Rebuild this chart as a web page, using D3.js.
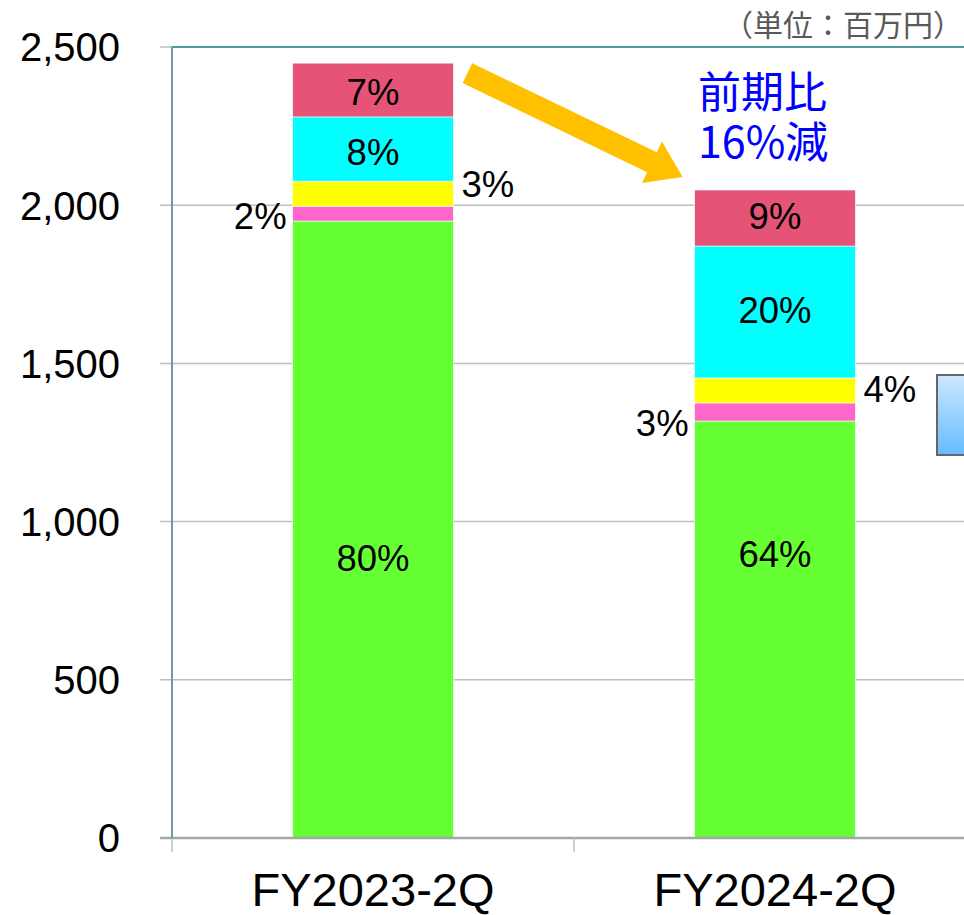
<!DOCTYPE html>
<html>
<head>
<meta charset="utf-8">
<script src="https://cdn.jsdelivr.net/npm/d3@7"></script>
<style>
  body { margin: 0; background: #fff; }
  svg { display: block; }
</style>
</head>
<body>
<div id="viz"></div>
<script>
// data
const categories = ["FY2023-2Q", "FY2024-2Q"];
const seriesKeys = ["green", "pink", "yellow", "cyan", "red"];
const seriesColors = ["#66FF33", "#FF66CC", "#FFFF00", "#00FFFF", "#E55377"];
const seriesValues = {
    green:  [1950, 1318],
    pink:   [47, 57],
    yellow: [79, 79],
    cyan:   [203, 417],
    red:    [170, 177]
};
const yTicks = [0, 500, 1000, 1500, 2000, 2500];
const unitLabel = "（単位：百万円）";
const changeNote = ["前期比", "16%減"];

// label layout: where each series' percent label sits, plus small nudges (px)
const labelPlacement = { green: "inside", pink: "left", yellow: "right", cyan: "inside", red: "inside" };
const labelNudge = {
    green: [28, -76], pink: [2, 11], yellow: [-10, -2], cyan: [3, -2], red: [2, -2]
};

const width = 964, height = 915;
const margin = { top: 47, left: 172, bottom: 77 };
const bandW = 402;

const svg = d3.select("#viz").append("svg")
    .attr("width", width)
    .attr("height", height);

const x = d3.scaleBand()
    .domain(categories)
    .range([margin.left, margin.left + bandW * categories.length]);

const y = d3.scaleLinear()
    .domain([0, 2500])
    .range([height - margin.bottom, margin.top]);

const barW = x.bandwidth() * 0.4;
const font = "'Liberation Sans', Arial, sans-serif";
const cjk = "'Noto Sans CJK JP', sans-serif";

// gridlines
svg.append("g")
    .selectAll("line")
    .data(yTicks.filter(d => d > 0 && d < 2500))
    .enter().append("line")
    .attr("x1", margin.left - 12)
    .attr("x2", width)
    .attr("y1", d => y(d))
    .attr("y2", d => y(d))
    .attr("stroke", "#bfbfbf")
    .attr("stroke-width", 1.5);

// top tick stub
svg.append("line")
    .attr("x1", margin.left - 12).attr("x2", margin.left)
    .attr("y1", y(2500)).attr("y2", y(2500))
    .attr("stroke", "#bfbfbf").attr("stroke-width", 1.5);

// y tick labels
svg.append("g")
    .selectAll("text")
    .data(yTicks)
    .enter().append("text")
    .attr("x", 120)
    .attr("y", d => y(d))
    .attr("dy", "0.36em")
    .attr("text-anchor", "end")
    .style("font-family", font)
    .style("font-size", "40px")
    .attr("fill", "#000")
    .text(d => d3.format(",")(d));

// stacked bars
const rows = categories.map((c, i) => {
    const r = { cat: c };
    seriesKeys.forEach(k => r[k] = seriesValues[k][i]);
    return r;
});
const stacked = d3.stack().keys(seriesKeys)(rows);
const totals = rows.map(r => d3.sum(seriesKeys, k => r[k]));

const layer = svg.selectAll(".layer")
    .data(stacked)
    .enter().append("g")
    .attr("class", "layer")
    .attr("fill", (d, i) => seriesColors[i]);

layer.selectAll("rect")
    .data(d => d.map(p => ({ p, cat: p.data.cat })))
    .enter().append("rect")
    .attr("x", d => x(d.cat) + (x.bandwidth() - barW) / 2)
    .attr("width", barW)
    .attr("y", d => y(d.p[1]))
    .attr("height", d => y(d.p[0]) - y(d.p[1]))
    .attr("stroke", "#ffffff")
    .attr("stroke-width", 0.6);

// percent labels
stacked.forEach(s => {
    s.forEach((p, i) => {
        const cat = categories[i];
        const pct = Math.round((p[1] - p[0]) / totals[i] * 100) + "%";
        const cy = y((p[0] + p[1]) / 2) + labelNudge[s.key][i];
        const cx = x(cat) + x.bandwidth() / 2;
        const place = labelPlacement[s.key];
        let tx = cx, anchor = "middle";
        if (place === "left") { tx = cx - barW / 2 - 6; anchor = "end"; }
        if (place === "right") { tx = cx + barW / 2 + 8; anchor = "start"; }
        svg.append("text")
            .attr("x", tx)
            .attr("y", cy)
            .attr("dy", "0.36em")
            .attr("text-anchor", anchor)
            .style("font-family", font)
            .style("font-size", "36.5px")
            .attr("fill", "#000")
            .text(pct);
    });
});

// axes frame
svg.append("line")
    .attr("x1", margin.left - 12).attr("x2", width)
    .attr("y1", y(0)).attr("y2", y(0))
    .attr("stroke", "#a6a6a6").attr("stroke-width", 2.5);
svg.append("line")
    .attr("x1", margin.left).attr("x2", width)
    .attr("y1", y(2500)).attr("y2", y(2500))
    .attr("stroke", "#4e9a9c").attr("stroke-width", 2);
svg.append("line")
    .attr("x1", margin.left).attr("x2", margin.left)
    .attr("y1", y(2500)).attr("y2", y(0))
    .attr("stroke", "#6a9ea0").attr("stroke-width", 2);

// category boundary ticks
svg.append("g")
    .selectAll("line")
    .data(categories.map(c => x(c)))
    .enter().append("line")
    .attr("x1", d => d).attr("x2", d => d)
    .attr("y1", y(0)).attr("y2", y(0) + 14)
    .attr("stroke", "#bfbfbf").attr("stroke-width", 1.5);

// x labels
svg.append("g")
    .selectAll("text")
    .data(categories)
    .enter().append("text")
    .attr("x", d => x(d) + x.bandwidth() / 2)
    .attr("y", 906)
    .attr("text-anchor", "middle")
    .style("font-family", font)
    .style("font-size", "47px")
    .attr("fill", "#000")
    .text(d => d);

// unit label
svg.append("text")
    .attr("x", width - 1)
    .attr("y", 36)
    .attr("text-anchor", "end")
    .style("font-family", cjk)
    .style("font-size", "30px")
    .attr("fill", "#595959")
    .text(unitLabel);

// arrow from bar 1 top to bar 2 top
function arrow(x0, y0, x1, y1, shaft, headW, headL) {
    const dx = x1 - x0, dy = y1 - y0;
    const len = Math.hypot(dx, dy);
    const ux = dx / len, uy = dy / len;
    const nx = -uy, ny = ux;
    const bx = x1 - ux * headL, by = y1 - uy * headL;
    const pts = [
        [x0 + nx * shaft / 2, y0 + ny * shaft / 2],
        [bx + nx * shaft / 2, by + ny * shaft / 2],
        [bx + nx * headW / 2, by + ny * headW / 2],
        [x1, y1],
        [bx - nx * headW / 2, by - ny * headW / 2],
        [bx - nx * shaft / 2, by - ny * shaft / 2],
        [x0 - nx * shaft / 2, y0 - ny * shaft / 2]
    ];
    return "M" + pts.map(p => p.join(",")).join("L") + "Z";
}
const a0x = x(categories[0]) + (x.bandwidth() + barW) / 2 + 14;
const a0y = y(totals[0]) + 10;
const a1x = x(categories[1]) + (x.bandwidth() - barW) / 2 - 12;
const a1y = y(totals[1]) - 13;
svg.append("path")
    .attr("d", arrow(a0x, a0y, a1x, a1y, 22, 46, 34))
    .attr("fill", "#FFC000");

// change note (one text, two lines)
svg.append("text")
    .attr("y", 108)
    .style("font-family", cjk)
    .style("font-size", "43px")
    .attr("fill", "#0000FF")
    .selectAll("tspan")
    .data(changeNote)
    .enter().append("tspan")
    .attr("x", 698)
    .attr("dy", (d, i) => i === 0 ? 0 : 50)
    .text(d => d);

// partial box at the right edge
const grad = svg.append("defs").append("linearGradient")
    .attr("id", "blueGrad")
    .attr("x1", 0).attr("y1", 0).attr("x2", 0).attr("y2", 1);
grad.append("stop").attr("offset", "0%").attr("stop-color", "#cde8ff");
grad.append("stop").attr("offset", "100%").attr("stop-color", "#66bbff");
svg.append("rect")
    .attr("x", 937)
    .attr("y", 375)
    .attr("width", 60)
    .attr("height", 80)
    .attr("fill", "url(#blueGrad)")
    .attr("stroke", "#666")
    .attr("stroke-width", 2);
</script>
</body>
</html>
